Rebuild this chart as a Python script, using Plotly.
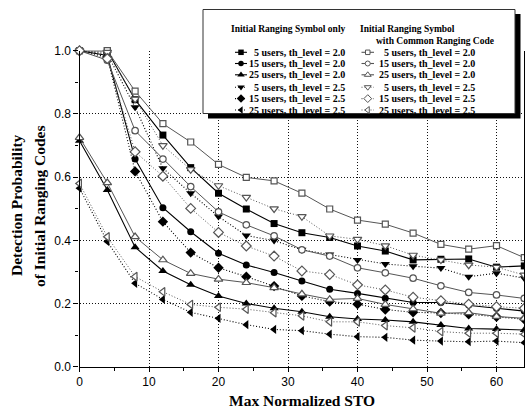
import plotly.graph_objects as go

W, H = 525, 409

# ---------------- data ----------------
sto = [0, 4, 8, 12, 16, 20, 24, 28, 32, 36, 40, 44, 48, 52, 56, 60, 64]

# Initial Ranging Symbol only
only_5u_20 = [1.0, 1.0, 0.845, 0.733, 0.63, 0.549, 0.499, 0.453, 0.424, 0.409, 0.382, 0.366, 0.338, 0.34, 0.341, 0.315, 0.319]
only_15u_20 = [1.0, 0.985, 0.657, 0.503, 0.427, 0.359, 0.322, 0.298, 0.271, 0.245, 0.232, 0.217, 0.203, 0.203, 0.195, 0.185, 0.176]
only_25u_20 = [0.715, 0.559, 0.378, 0.303, 0.259, 0.224, 0.20, 0.185, 0.174, 0.158, 0.151, 0.148, 0.142, 0.132, 0.121, 0.119, 0.116]
only_5u_25 = [1.0, 0.99, 0.821, 0.628, 0.549, 0.475, 0.415, 0.399, 0.37, 0.355, 0.338, 0.325, 0.318, 0.312, 0.285, 0.296, 0.28]
only_15u_25 = [1.0, 0.98, 0.618, 0.459, 0.361, 0.313, 0.285, 0.255, 0.224, 0.206, 0.198, 0.181, 0.172, 0.17, 0.166, 0.158, 0.15]
only_25u_25 = [0.565, 0.396, 0.264, 0.213, 0.172, 0.153, 0.133, 0.118, 0.114, 0.103, 0.095, 0.093, 0.084, 0.081, 0.079, 0.081, 0.076]

# Initial Ranging Symbol with Common Ranging Code
comm_5u_20 = [1.0, 1.0, 0.872, 0.769, 0.711, 0.64, 0.599, 0.588, 0.549, 0.499, 0.464, 0.451, 0.423, 0.387, 0.372, 0.383, 0.345]
comm_15u_20 = [1.0, 0.97, 0.747, 0.657, 0.57, 0.49, 0.449, 0.414, 0.37, 0.35, 0.313, 0.297, 0.28, 0.256, 0.235, 0.227, 0.216]
comm_25u_20 = [0.725, 0.582, 0.411, 0.338, 0.295, 0.277, 0.266, 0.25, 0.23, 0.213, 0.216, 0.197, 0.183, 0.169, 0.171, 0.159, 0.153]
comm_5u_25 = [1.0, 0.995, 0.847, 0.70, 0.624, 0.573, 0.536, 0.50, 0.475, 0.414, 0.403, 0.383, 0.353, 0.338, 0.322, 0.315, 0.29]
comm_15u_25 = [1.0, 0.975, 0.68, 0.603, 0.501, 0.425, 0.382, 0.35, 0.303, 0.292, 0.259, 0.243, 0.22, 0.209, 0.198, 0.19, 0.185]
comm_25u_25 = [0.58, 0.411, 0.285, 0.237, 0.197, 0.188, 0.182, 0.171, 0.161, 0.142, 0.142, 0.13, 0.123, 0.111, 0.106, 0.106, 0.103]

labels = ["5 users, th_level = 2.0", "15 users, th_level = 2.0", "25 users, th_level = 2.0",
          "5 users, th_level = 2.5", "15 users, th_level = 2.5", "25 users, th_level = 2.5"]
header_left = "Initial Ranging Symbol only"
header_right_1 = "Initial Ranging Symbol"
header_right_2 = "with Common Ranging Code"
x_title = "Max Normalized STO"
y_title_1 = "Detection Probability"
y_title_2 = "of Initial Ranging Codes"

# ---------------- styles ----------------
BLACK = "black"
GRAY = "#555555"
DOT = "1px,2px"
only_series = [only_5u_20, only_15u_20, only_25u_20, only_5u_25, only_15u_25, only_25u_25]
comm_series = [comm_5u_20, comm_15u_20, comm_25u_20, comm_5u_25, comm_15u_25, comm_25u_25]
filled_sym = ["square", "circle", "triangle-up", "triangle-down", "diamond", "triangle-left"]
sizes_f = [7, 7, 8, 8, 8, 8]
sizes_o = [6, 6.5, 7.5, 7.5, 7.5, 7.5]
dashes = ["solid", "solid", "solid", DOT, DOT, DOT]

fig = go.Figure()

for i in range(6):
    fig.add_trace(go.Scatter(
        x=sto, y=only_series[i], mode="lines+markers", cliponaxis=False,
        line=dict(color=BLACK, width=1.1, dash=dashes[i]),
        marker=dict(symbol=filled_sym[i], size=sizes_f[i], color=BLACK, line=dict(width=0)),
        showlegend=False, xaxis="x", yaxis="y"))
for i in range(6):
    fig.add_trace(go.Scatter(
        x=sto, y=comm_series[i], mode="lines+markers", cliponaxis=False,
        line=dict(color=GRAY, width=1.0, dash=dashes[i]),
        marker=dict(symbol=filled_sym[i], size=sizes_o[i], color="white",
                    line=dict(width=1.2, color=GRAY)),
        showlegend=False, xaxis="x", yaxis="y"))

# ---------------- legend (pixel overlay axes x2/y2) ----------------
shapes = [
    dict(type="rect", xref="x2", yref="y2", x0=208, x1=520.5, y0=14, y1=118.5,
         fillcolor="black", line=dict(width=0), layer="below"),
    dict(type="rect", xref="x2", yref="y2", x0=203, x1=515, y0=9.5, y1=113.5,
         fillcolor="white", line=dict(width=1, color="#333333"), layer="below"),
]
rows = [52.3, 63.5, 74.8, 87.2, 98.6, 110.0]
annotations = []
LF = dict(family="Liberation Serif, Times New Roman, serif", size=10, color="black", weight="bold")
HF = dict(family="Liberation Serif, Times New Roman, serif", size=9.5, color="black", weight="bold")
for col, (x0, x1, xt, col_color, fill) in enumerate([
        (235, 247, 346.7, BLACK, BLACK),
        (361.5, 374, 476.7, GRAY, "white")]):
    for i in range(6):
        fig.add_trace(go.Scatter(
            x=[x0, x1], y=[rows[i], rows[i]], mode="lines",
            line=dict(color=col_color, width=1.1, dash=dashes[i]),
            showlegend=False, xaxis="x2", yaxis="y2", hoverinfo="skip"))
        fig.add_trace(go.Scatter(
            x=[(x0 + x1) / 2], y=[rows[i]], mode="markers",
            marker=dict(symbol=filled_sym[i], size=(sizes_o[i] if col else sizes_f[i]) - 1.5,
                        color=fill, line=dict(width=1.0 if col else 0, color=GRAY)),
            showlegend=False, xaxis="x2", yaxis="y2", hoverinfo="skip"))
        annotations.append(dict(xref="x2", yref="y2", x=xt, y=rows[i], text=labels[i],
                                showarrow=False, xanchor="right", yanchor="middle", font=LF))

annotations.append(dict(xref="x2", yref="y2", x=228.5, y=29.3, text=header_left,
                        showarrow=False, xanchor="left", yanchor="middle", font=HF))
annotations.append(dict(xref="x2", yref="y2", x=358.3, y=29.3, text=header_right_1,
                        showarrow=False, xanchor="left", yanchor="middle", font=HF))
annotations.append(dict(xref="x2", yref="y2", x=374.3, y=41.0, text=header_right_2,
                        showarrow=False, xanchor="left", yanchor="middle", font=HF))

TF = dict(family="Liberation Serif, Times New Roman, serif", size=15.5, color="black", weight="bold")
annotations.append(dict(xref="x2", yref="y2", x=302, y=400, text=x_title,
                        showarrow=False, xanchor="center", yanchor="middle", font=TF))
annotations.append(dict(xref="x2", yref="y2", x=16, y=205, text=y_title_1, textangle=-90,
                        showarrow=False, xanchor="center", yanchor="middle", font=TF))
annotations.append(dict(xref="x2", yref="y2", x=39, y=206, text=y_title_2, textangle=-90,
                        showarrow=False, xanchor="center", yanchor="middle", font=TF))

xL, xR = 79.5, 524.3
yT, yB = 50.7, 366.7
tickfont = dict(family="Liberation Sans, Arial, sans-serif", size=12, color="black")

fig.update_layout(
    width=W, height=H, margin=dict(l=0, r=0, t=0, b=0, pad=0),
    paper_bgcolor="white", plot_bgcolor="rgba(0,0,0,0)",
    showlegend=False, template="none",
    shapes=shapes, annotations=annotations,
    xaxis=dict(domain=[xL / W, xR / W], range=[0, 64], anchor="y",
               showline=True, linecolor="black", linewidth=1.4, mirror=False,
               ticks="outside", ticklen=4, tickwidth=1, tickcolor="black",
               dtick=10, tick0=0, tickfont=tickfont,
               minor=dict(dtick=5, ticks="outside", ticklen=3, tickcolor="black", showgrid=False),
               showgrid=True, gridcolor="#111111", gridwidth=1, griddash=DOT,
               zeroline=False, automargin=False),
    yaxis=dict(domain=[(H - yB) / H, (H - yT) / H], range=[0, 1.0], anchor="x",
               showline=True, linecolor="black", linewidth=1.4, mirror=True,
               ticks="outside", ticklen=5, tickwidth=1, tickcolor="black",
               dtick=0.2, tick0=0, tickformat=".1f", tickfont=tickfont,
               minor=dict(dtick=0.1, ticks="outside", ticklen=3, tickcolor="black", showgrid=False),
               showgrid=True, gridcolor="#111111", gridwidth=1, griddash=DOT,
               zeroline=False, automargin=False),
    xaxis2=dict(domain=[0, 1], range=[0, W], anchor="y2", visible=False, fixedrange=True),
    yaxis2=dict(domain=[0, 1], range=[H, 0], anchor="x2", visible=False, fixedrange=True),
)

fig.write_html("out.html")
